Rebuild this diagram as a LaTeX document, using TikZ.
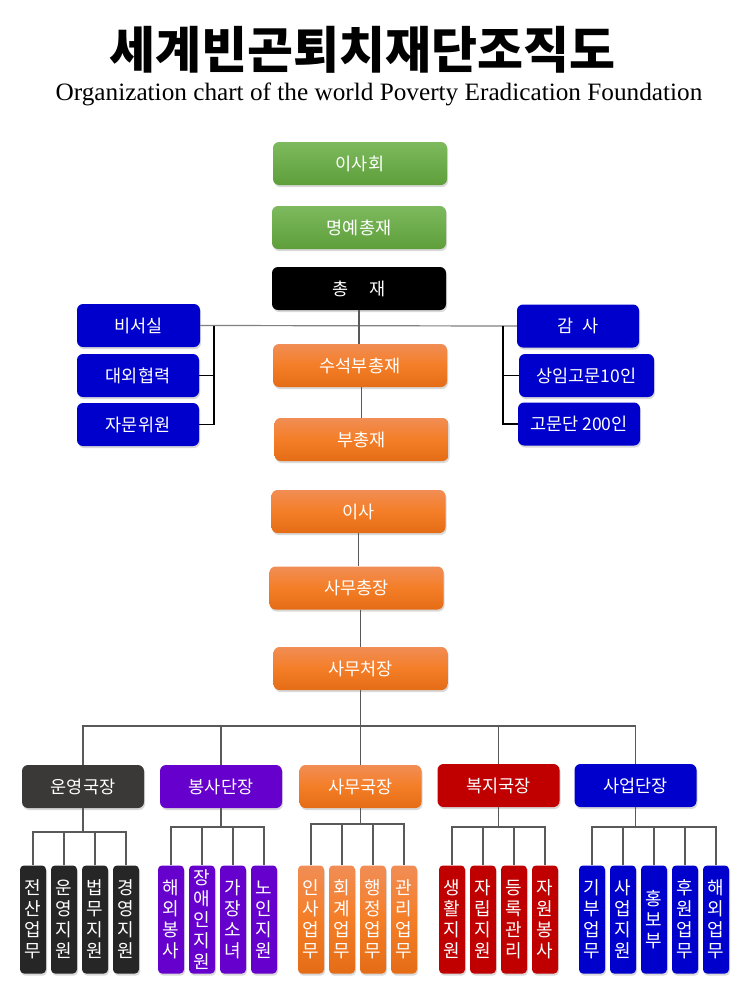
\documentclass[tikz,border=0pt]{standalone}
\usepackage{fontspec}
\setmainfont{Liberation Serif}
\newfontfamily\kr{Noto Sans CJK KR}
\usetikzlibrary{positioning,shadows}
\definecolor{grTop}{HTML}{7DBA5E}
\definecolor{grBot}{HTML}{5E9E3A}
\definecolor{orTop}{HTML}{F18D55}
\definecolor{orMid}{HTML}{F47E27}
\definecolor{orBot}{HTML}{E46C16}
\definecolor{kBlue}{HTML}{0000CC}
\definecolor{kPurple}{HTML}{6600CC}
\definecolor{kRed}{HTML}{C00000}
\definecolor{kDark}{HTML}{3B3838}
\definecolor{kLeaf}{HTML}{262626}
\definecolor{lineGray}{HTML}{595959}
\newcommand\boxfont{\kr\fontsize{17.5}{20}\selectfont}
\newcommand\leaffont{\kr\fontsize{18}{21}\selectfont}

\begin{document}
\begin{tikzpicture}[x=1pt,y=-1pt,
	box/.style={rounded corners=6pt,minimum width=174pt,minimum height=43pt,inner sep=0pt,
		text=white,font=\boxfont,drop shadow={shadow xshift=1pt,shadow yshift=-2pt,opacity=.3}},
	greenbox/.style={box,top color=grTop,bottom color=grBot},
	orangebox/.style={box,top color=orTop,bottom color=orBot,middle color=orMid},
	sidebox/.style={box,fill=kBlue,minimum width=122pt},
	dept/.style={box,minimum width=122pt},
	leaf/.style={box,minimum width=26pt,minimum height=108pt,rounded corners=4pt,
		align=center,font=\leaffont},
	conn/.style={draw=lineGray,line width=1.2pt},
	brk/.style={draw=black,line width=1.2pt}]
	%% page
	\useasboundingbox (0,0) rectangle (745,982);

	% title
	\node[font=\kr\bfseries\fontsize{50}{54}\selectfont] (title) at (362,50) {세계빈곤퇴치재단조직도};
	\node[anchor=base,font=\fontsize{25}{28}\selectfont] (subtitle) at (379,100)
		{\scalebox{1.01}[1]{Organization chart of the world Poverty Eradication Foundation}};

	% top column
	\node[greenbox] (isahoe) at (360,163.5) {이사회};
	\node[greenbox] (myeong) at (359,227.5) {명예총재};
	\node[box,fill=black] (chong) at (359,288.5) {총\hspace{21pt}재};
	\node[orangebox] (suseok) at (360,365.5) {수석부총재};
	\node[orangebox] (buchong) at (361.5,439.5) {부총재};
	\node[orangebox] (isa) at (358.5,511.5) {이사};
	\node[orangebox] (samuchong) at (356.5,588) {사무총장};
	\node[orangebox] (samucheo) at (360.5,668.5) {사무처장};

	% side boxes
	\node[sidebox,minimum width=123pt] (biseo) at (138.5,325.5) {비서실};
	\node[sidebox] (daeoe) at (138,375.5) {대외협력};
	\node[sidebox] (jamun) at (138,424.5) {자문위원};
	\node[sidebox] (gamsa) at (578,326) {감\hspace{8pt}사};
	\node[sidebox,minimum width=135pt] (sangim) at (586.5,375.5) {상임고문10인};
	\node[sidebox] (gomun) at (579,424) {고문단 200인};

	\draw[conn,draw=gray] (biseo.east) -- (gamsa.west);
	\draw[conn] (chong.south) -- (chong.south |- suseok.north);
	\draw[conn] (suseok.south -| buchong.north) -- (buchong.north);
	\draw[conn] (isa.south) -- (isa.south |- samuchong.north);
	\draw[conn] (samuchong.south -| samucheo.north) -- (samucheo.north);
	\coordinate (lb) at (214,326);
	\coordinate (rb) at (503,326);
	\draw[brk] (lb) |- (jamun.east);
	\draw[brk] (lb |- daeoe.east) -- (daeoe.east);
	\draw[brk] (rb) |- (gomun.west);
	\draw[brk] (rb |- sangim.west) -- (sangim.west);

	% departments
	\node[dept,fill=kDark] (unyeong) at (83,786.5) {운영국장};
	\node[dept,fill=kPurple] (bongsa) at (221,786.5) {봉사단장};
	\node[dept,top color=orTop,bottom color=orBot,middle color=orMid] (samuguk) at (360.5,786.5) {사무국장};
	\node[dept,fill=kRed] (bokji) at (498.5,785.5) {복지국장};
	\node[dept,fill=kBlue] (saeop) at (635.5,785.5) {사업단장};

	\coordinate (bus) at (samucheo.south |- 0,726);
	\draw[conn] (samucheo.south) -- (bus);
	\draw[conn] (unyeong.north) |- (bus) -| (saeop.north);
	\foreach \d in {bongsa,samuguk,bokji}
		\draw[conn] (\d.north) -- (\d.north |- bus);

	% leaves
	\foreach \t [count=\i] in {{전\\산\\업\\무},{운\\영\\지\\원},{법\\무\\지\\원},{경\\영\\지\\원}}
		\node[leaf,fill=kLeaf] (op\i) at ({33+31*(\i-1)},919.5) {\t};
	\foreach \t [count=\i] in {{해\\외\\봉\\사},{장\\애\\인\\지\\원},{가\\장\\소\\녀},{노\\인\\지\\원}}
		\node[leaf,fill=kPurple] (bs\i) at ({171+31*(\i-1)},919.5) {\t};
	\foreach \t [count=\i] in {{인\\사\\업\\무},{회\\계\\업\\무},{행\\정\\업\\무},{관\\리\\업\\무}}
		\node[leaf,top color=orTop,bottom color=orBot,middle color=orMid] (sm\i) at ({311+31*(\i-1)},919.5) {\t};
	\foreach \t [count=\i] in {{생\\활\\지\\원},{자\\립\\지\\원},{등\\록\\관\\리},{자\\원\\봉\\사}}
		\node[leaf,fill=kRed] (bj\i) at ({452+31*(\i-1)},919.5) {\t};
	\foreach \t [count=\i] in {{기\\부\\업\\무},{사\\업\\지\\원},{홍\\보\\부},{후\\원\\업\\무},{해\\외\\업\\무}}
		\node[leaf,fill=kBlue] (sy\i) at ({592+31*(\i-1)},919.5) {\t};

	% leaf brackets
	\draw[conn] (unyeong.south) -- (unyeong.south |- 0,832);
	\draw[conn] (op1.north) |- (op4.north |- 0,832) -- (op4.north);
	\foreach \i in {2,3} \draw[conn] (op\i.north) -- (op\i.north |- 0,832);
	\draw[conn] (bongsa.south) -- (bongsa.south |- 0,827);
	\draw[conn] (bs1.north) |- (bs4.north |- 0,827) -- (bs4.north);
	\foreach \i in {2,3} \draw[conn] (bs\i.north) -- (bs\i.north |- 0,827);
	\draw[conn] (samuguk.south) -- (samuguk.south |- 0,824);
	\draw[conn] (sm1.north) |- (sm4.north |- 0,824) -- (sm4.north);
	\foreach \i in {2,3} \draw[conn] (sm\i.north) -- (sm\i.north |- 0,824);
	\draw[conn] (bokji.south) -- (bokji.south |- 0,827);
	\draw[conn] (bj1.north) |- (bj4.north |- 0,827) -- (bj4.north);
	\foreach \i in {2,3} \draw[conn] (bj\i.north) -- (bj\i.north |- 0,827);
	\draw[conn] (saeop.south) -- (saeop.south |- 0,827);
	\draw[conn] (sy1.north) |- (sy5.north |- 0,827) -- (sy5.north);
	\foreach \i in {2,3,4} \draw[conn] (sy\i.north) -- (sy\i.north |- 0,827);
\end{tikzpicture}
\end{document}
